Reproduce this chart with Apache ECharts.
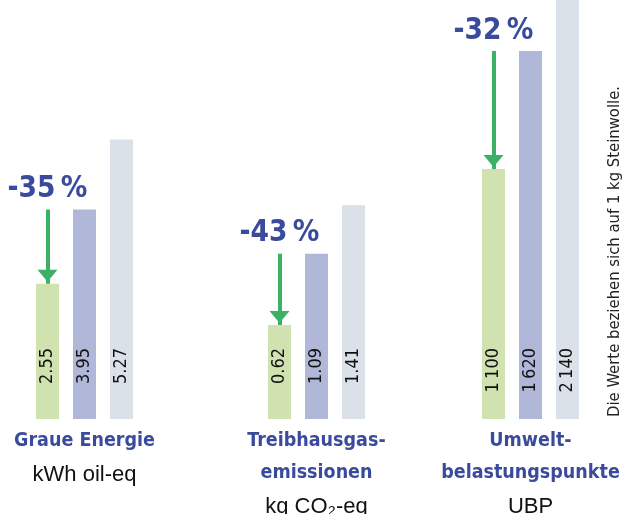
<!DOCTYPE html>
<html><head><meta charset="utf-8">
<script src="https://cdn.jsdelivr.net/npm/echarts@6/dist/echarts.min.js"></script>
<style>html,body{margin:0;padding:0;background:#fff}#c{width:624px;height:514px}</style>
</head><body><div id="c"></div>
<script>
// ---- data ----
const variants = ['Variante 1', 'Variante 2', 'Variante 3'];
const groupTitles = [['Graue Energie'], ['Treibhausgas-', 'emissionen'], ['Umwelt-', 'belastungspunkte']];
const groupUnits = ['kWh oil-eq', 'kg CO₂-eq', 'UBP'];
const energyValues = [2.55, 3.95, 5.27];
const ghgValues = [0.62, 1.09, 1.41];
const ubpValues = [1100, 1620, 2140];
const axisMax = [7.9, 2.764, 1844];
const note = 'Die Werte beziehen sich auf 1 kg Steinwolle.';

// ---- styles ----
const barColors = ['#cfe2b0', '#b0b7d9', '#dae1e9'];
const blue = '#3a4a9c';
const green = '#3cb064';
const narrow = '"DejaVu Sans Condensed", "Liberation Sans Narrow", sans-serif';
const regular = '"Liberation Sans", Arial, sans-serif';
const gridLefts = [29, 261, 475];

const groups = [energyValues, ghgValues, ubpValues];
const fmt = [
  v => v.toFixed(2),
  v => v.toFixed(2),
  v => String(v).replace(/\B(?=(\d{3})+(?!\d))/g, '\u2009')
];
const pct = vals => '-' + Math.round((1 - vals[0] / vals[1]) * 100) + '\u2009%';

const chart = echarts.init(document.getElementById('c'), null, {renderer: 'canvas'});
chart.setOption({
  animation: false,
  grid: gridLefts.map(l => ({left: l, width: 111, top: 0, bottom: 95, containLabel: false, outerBoundsMode: 'none'})),
  xAxis: groups.map((g, i) => ({
    type: 'category', gridIndex: i, data: variants,
    axisLine: {show: false}, axisTick: {show: false}, axisLabel: {show: false},
    name: groupTitles[i].map(t => '{t|' + t + '}').join('\n') + '\n{u|' + groupUnits[i] + '}',
    nameLocation: 'middle', nameGap: 6,
    nameTextStyle: {
      align: 'center', verticalAlign: 'top',
      rich: {
        t: {fontFamily: narrow, fontWeight: 'bold', fontSize: 19.5, color: blue, lineHeight: 32, align: 'center'},
        u: {fontFamily: regular, fontSize: 22, color: '#111', lineHeight: 35, align: 'center'}
      }
    }
  })),
  yAxis: groups.map((g, i) => ({type: 'value', gridIndex: i, min: 0, max: axisMax[i], show: false})),
  series: groups.map((vals, i) => ({
    type: 'bar', xAxisIndex: i, yAxisIndex: i, barWidth: 23,
    data: vals.map((v, j) => ({value: v, itemStyle: {color: barColors[j]}})),
    label: {
      show: true, position: 'insideBottom', distance: 71, rotate: 90,
      align: 'right', verticalAlign: 'middle',
      fontFamily: narrow, fontSize: 18, color: '#111',
      formatter: p => fmt[i](p.value)
    },
    markLine: {
      silent: true, animation: false,
      symbol: ['none', 'triangle'], symbolSize: [20, 12], symbolOffset: [[0, 0], [0, 8]],
      lineStyle: {color: green, width: 4, type: 'solid'},
      itemStyle: {color: green},
      label: {
        show: true, position: 'start', distance: 5,
        formatter: () => pct(vals),
        fontFamily: narrow, fontWeight: 'bold', fontSize: 29.5, color: blue
      },
      data: [[{coord: [variants[0], vals[1]]}, {coord: [variants[0], vals[0]]}]]
    }
  })),
  graphic: [{
    type: 'text', x: 615, y: 417, rotation: Math.PI / 2,
    style: {text: note, fontFamily: narrow, fontSize: 16.5, fill: '#222', align: 'left', verticalAlign: 'middle'}
  }]
});
</script>
</body></html>
